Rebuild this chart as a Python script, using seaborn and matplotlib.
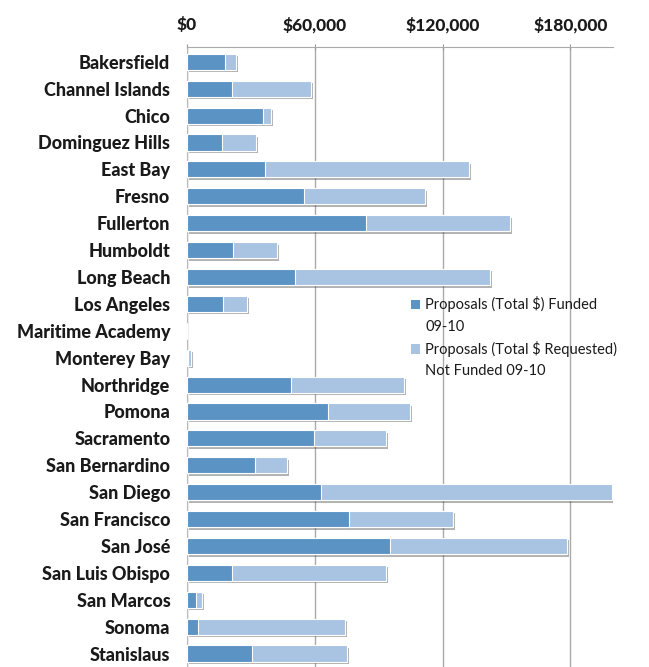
import matplotlib
matplotlib.use("Agg")
import matplotlib.pyplot as plt
import matplotlib.patheffects as pe
from matplotlib.patches import Patch
import seaborn as sns
import pandas as pd
import numpy as np

campuses = ["Bakersfield", "Channel Islands", "Chico", "Dominguez Hills", "East Bay",
            "Fresno", "Fullerton", "Humboldt", "Long Beach", "Los Angeles",
            "Maritime Academy", "Monterey Bay", "Northridge", "Pomona", "Sacramento",
            "San Bernardino", "San Diego", "San Francisco", "San José", "San Luis Obispo",
            "San Marcos", "Sonoma", "Stanislaus"]
funded = [17900, 21200, 35700, 16500, 36400, 55100, 84000, 21500, 50500, 17000,
          0, 600, 48900, 66100, 59800, 31800, 63000, 76100, 95100, 21200,
          4200, 5300, 30500]
not_funded = [5300, 37100, 3800, 15900, 96000, 56800, 67800, 20900, 91600, 11000,
              0, 1100, 53100, 38700, 33600, 15100, 136500, 48600, 83300, 72200,
              3000, 69000, 44500]
x_ticks = [0, 60000, 120000, 180000]
x_ticklabels = ["\\$0", "\\$60,000", "\\$120,000", "\\$180,000"]
legend_labels = ["Proposals (Total \\$) Funded\n09-10",
                 "Proposals (Total \\$ Requested)\nNot Funded 09-10"]

dark = "#5a93c4"
light = "#a9c3e2"

sns.set_style("white")
plt.rcParams["font.family"] = ["Lato", "DejaVu Sans"]

df = pd.DataFrame({"campus": campuses, "funded": funded,
                   "total": np.array(funded) + np.array(not_funded)})

fig = plt.figure(figsize=(6.49, 6.67), dpi=100)
ax = fig.add_axes([187 / 649, 0.0, (613 - 187) / 649, 1 - 47 / 667])

sns.barplot(data=df, y="campus", x="total", color=light, orient="h",
            width=0.6, ax=ax, saturation=1, edgecolor="white", linewidth=0.8,
            zorder=3)
sns.barplot(data=df, y="campus", x="funded", color=dark, orient="h",
            width=0.6, ax=ax, saturation=1, edgecolor="white", linewidth=0.8,
            zorder=4)

shadow = [pe.SimplePatchShadow(offset=(1.5, -1.8), shadow_rgbFace="#555555", alpha=0.45),
          pe.Normal()]
n = len(campuses)
for i, p in enumerate(ax.patches):
    if i < n:
        p.set_path_effects(shadow)

ax.set_xlim(0, 200000)
ax.set_ylim(22.3, -0.55)
ax.xaxis.tick_top()
ax.set_xticks(x_ticks)
ax.set_xticklabels(x_ticklabels, fontsize=12.5, fontweight=900, color="#1a1a1a")
ax.tick_params(axis="x", which="major", length=4, direction="inout",
               color="#999999", pad=8)
ax.set_yticks(range(n))
ax.set_yticklabels(campuses, fontsize=13, fontweight=900, color="#1a1a1a")
ax.tick_params(axis="y", which="major", length=0, pad=12)
ax.set_yticks(np.arange(-0.5, n, 1), minor=True)
ax.tick_params(axis="y", which="minor", length=4, direction="out", color="#aaaaaa", width=0.8)
ax.set_xlabel("")
ax.set_ylabel("")
ax.grid(axis="x", color="#aaaaaa", linewidth=1, zorder=0)
ax.set_axisbelow(True)
for s in ["right", "bottom"]:
    ax.spines[s].set_visible(False)
ax.spines["top"].set_color("#aaaaaa")
ax.spines["left"].set_color("#bbbbbb")
ax.spines["left"].set_linewidth(0.8)

# legend: square aligned with the first line of each two-line label
hs, ls = [], []
for col, lab in zip([dark, light], legend_labels):
    first, second = lab.split("\n")
    hs += [Patch(facecolor=col, edgecolor="none"), Patch(facecolor="none", edgecolor="none")]
    ls += [first, second]
leg = ax.legend(hs, ls, loc="upper left", bbox_to_anchor=(0.513, 0.607),
                frameon=False, fontsize=10.5, handlelength=0.6, handleheight=0.6,
                handletextpad=0.35, labelspacing=0.5, borderaxespad=0)
for t in leg.get_texts():
    t.set_color("#1a1a1a")

fig.savefig("out.png", dpi=100)
